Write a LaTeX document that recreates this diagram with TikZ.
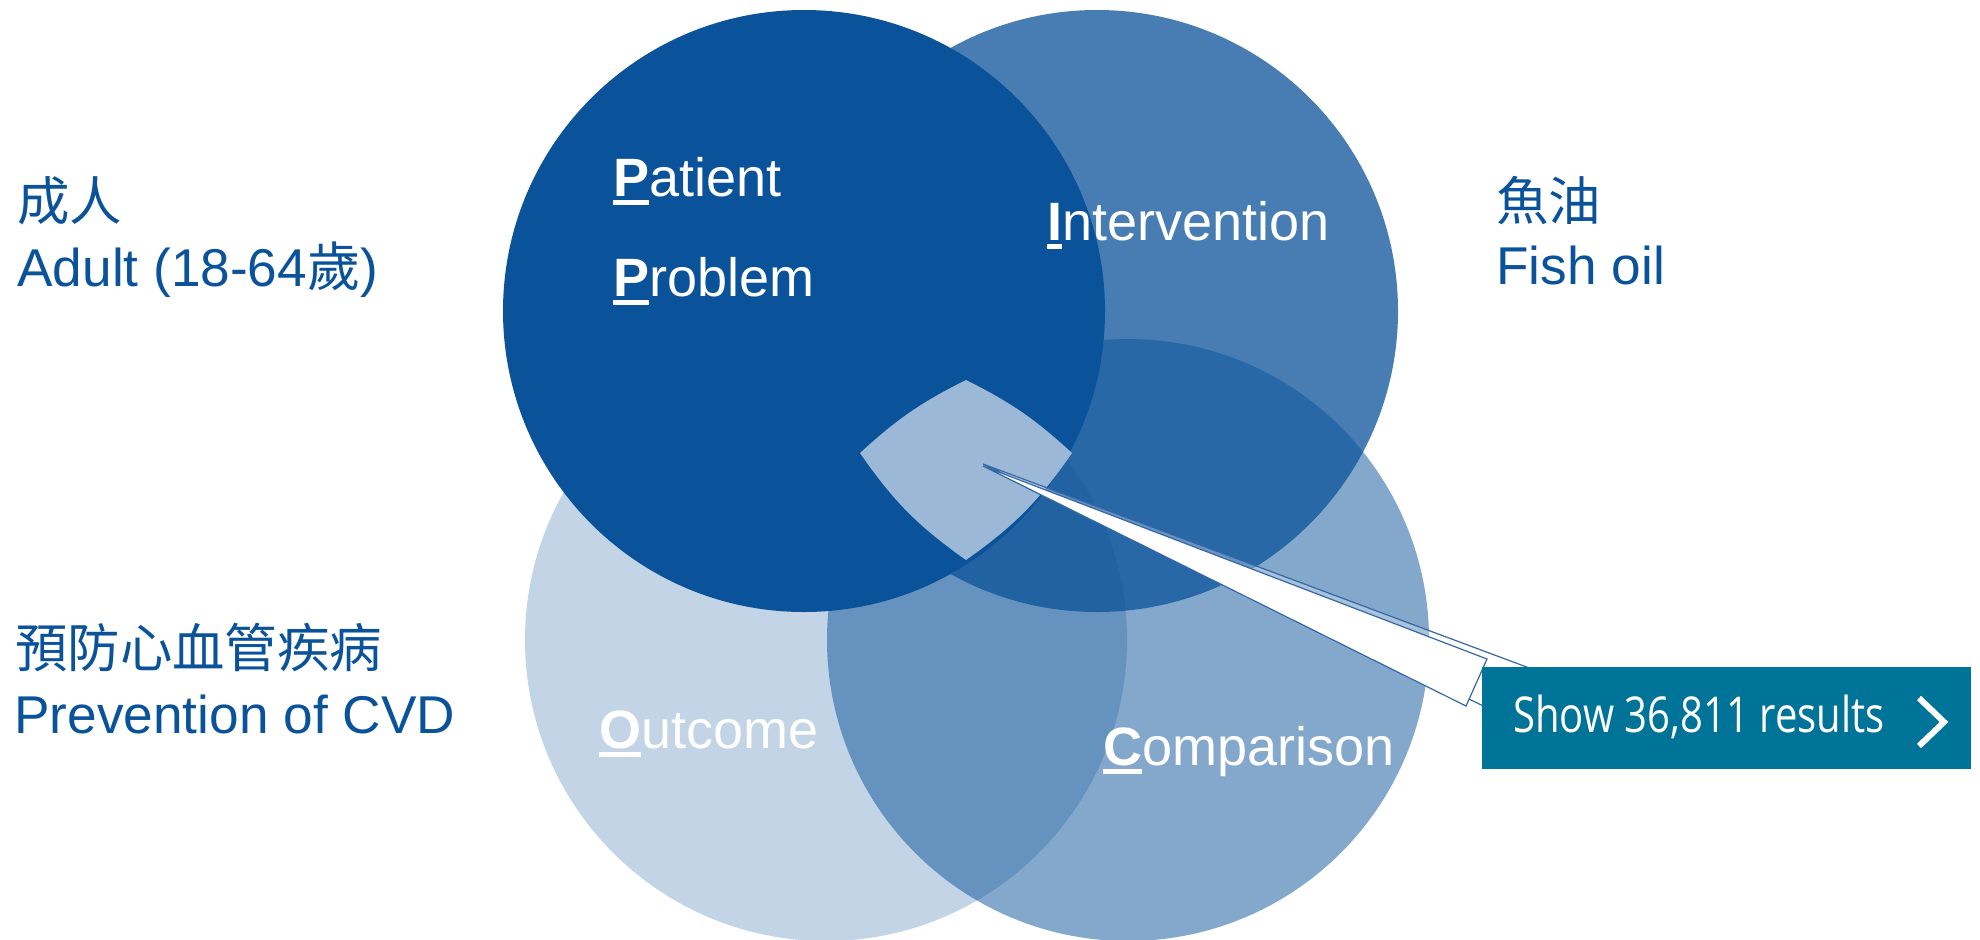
\documentclass[tikz,border=0pt]{standalone}
\usepackage{fontspec}
\usepackage{graphicx}
\setmainfont{Liberation Sans}
\newfontfamily\cjk{Noto Sans CJK TC}
\newfontfamily\btnfont[FakeStretch=0.81]{Open Sans}
\definecolor{pico}{HTML}{0A5299}
\definecolor{hilite}{HTML}{9BB8D7}
\definecolor{btncol}{HTML}{007399}
\definecolor{callline}{HTML}{3467A8}
\newcommand\firstul[1]{\setbox0\hbox{\bfseries #1}\rlap{\rule[-4.5pt]{\wd0}{2.5pt}}\box0}
\tikzset{
  setcircle/.style={circle, minimum size=301pt, inner sep=0pt, fill=pico, fill opacity=#1},
  circlabel/.style={anchor=base west, inner sep=0pt, text=white, font=\fontsize{27pt}{32pt}\selectfont},
  sidelabel/.style={anchor=base west, inner sep=0pt, text=pico, font=\fontsize{26.6pt}{31pt}\selectfont},
  sidecjk/.style={anchor=base west, inner sep=0pt, text=pico, font=\fontsize{26.2pt}{31pt}\selectfont\cjk},
  callshape/.style={draw=callline, line width=0.6pt, line join=miter},
}
\begin{document}
\begin{tikzpicture}[x=0.5pt, y=-0.5pt]
\useasboundingbox (0,0) rectangle (1980,939);
\clip (0,0) rectangle (1980,939);
% circles
\node[setcircle=0.25] (O) at (826,640) {};
\node[setcircle=0.5] (C) at (1128,640) {};
\node[setcircle=0.75] (I) at (1097,311) {};
\node[setcircle=1] (P) at (804,311) {};
% circle labels
\node[circlabel] (patient) at (613,196) {\firstul{P}atient};
\node[circlabel] (problem) at (613,296) {\firstul{P}roblem};
\node[circlabel] (interv) at (1047,240) {\firstul{I}ntervention};
\node[circlabel] (outcome) at (599,748) {\firstul{O}utcome};
\node[circlabel] (compar) at (1103,765) {\firstul{C}omparison};
% highlighted intersection
\fill[hilite] (966,380) to[bend right=8] (860,453) to[bend right=10] (966,560)
  to[bend right=10] (1072,453) to[bend right=8] (966,380) -- cycle;
% callout
\coordinate (tip) at (983,466);
\coordinate (tipb) at (983,464);
\coordinate (backup) at (1540,672);
\coordinate (backlow) at (1500,714);
\coordinate (frontup) at (1487,659);
\coordinate (frontlow) at (1466,706);
\filldraw[callshape, fill=white, fill opacity=0.3] (tipb) -- (backup) -- (backlow) -- cycle;
\filldraw[callshape, fill=white] (tip) -- (frontup) -- (frontlow) -- cycle;
% button
\node[fill=btncol, inner sep=0pt, minimum width=244.5pt, minimum height=51pt, anchor=north west] (btn) at (1482,667) {};
\node[anchor=base west, inner sep=0pt, text=white, font=\fontsize{24.7pt}{29pt}\selectfont\btnfont] (btntext) at (1513,732) {Show 36,811 results};
\coordinate (chevA) at (1919,698);
\coordinate (chevB) at (1944,722);
\coordinate (chevC) at (1919,746);
\draw[white, line width=3pt, line join=miter] (chevA) -- (chevB) -- (chevC);
% side labels
\node[sidecjk] (adultzh) at (17,220) {成人};
\node[sidelabel] (adulten) at (17,286) {Adult (18-64{\cjk 歲})};
\node[sidecjk] (cvdzh) at (15,667) {預防心血管疾病};
\node[sidelabel] (cvden) at (14,733) {Prevention of CVD};
\node[sidecjk] (fishzh) at (1496,220) {魚油};
\node[sidelabel] (fishen) at (1496,284) {Fish oil};
\end{tikzpicture}
\end{document}
